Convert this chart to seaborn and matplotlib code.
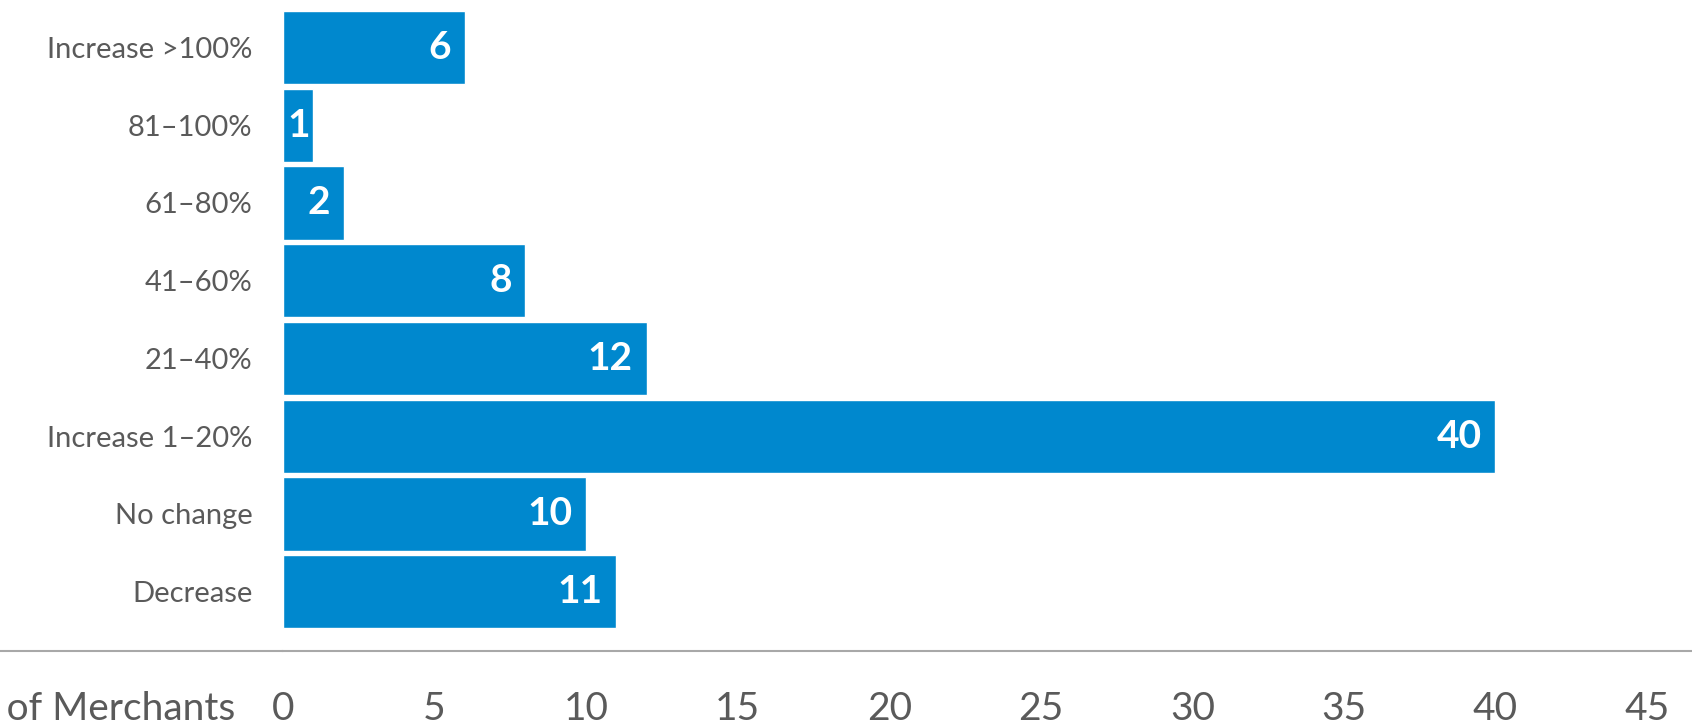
import matplotlib
matplotlib.use("Agg")
import matplotlib.pyplot as plt
from matplotlib.lines import Line2D
import seaborn as sns

# Data
categories = ["Increase >100%", "81–100%", "61–80%", "41–60%",
              "21–40%", "Increase 1–20%", "No change", "Decrease"]
counts = [6, 1, 2, 8, 12, 40, 10, 11]
x_ticks = [0, 5, 10, 15, 20, 25, 30, 35, 40, 45]

bar_color = "#0088ce"
text_gray = "#5a5a5a"
axis_gray = "#a8a8a8"

sns.set_style("white")
plt.rcParams["font.family"] = ["Lato", "DejaVu Sans"]

W, H = 1692, 728
fig = plt.figure(figsize=(W / 100, H / 100), dpi=100)
ax_left = 283 / W
ax_bottom = 1 - 651 / H
ax = fig.add_axes([ax_left, ax_bottom, 1 - ax_left, 651 / H])

sns.barplot(x=counts, y=categories, color=bar_color, saturation=1,
            width=0.944, orient="h", ax=ax)

# value labels inside bar ends (centred when the bar is too short)
for i, v in enumerate(counts):
    if v < 2:
        ax.annotate(str(v), xy=(v / 2, i), ha="center", va="center",
                    color="white", fontsize=28, fontweight="bold")
    else:
        ax.annotate(str(v), xy=(v, i), xytext=(-10, 0), textcoords="offset points",
                    ha="right", va="center", color="white", fontsize=28,
                    fontweight="bold")

ax.set_xlim(0, (W - 283) / 30.31)
ax.set_ylim(7.763, -0.611)
ax.set_xticks(x_ticks)
ax.set_xlabel("")
ax.set_ylabel("")

for side in ["top", "right", "left"]:
    ax.spines[side].set_visible(False)
ax.spines["bottom"].set_color(axis_gray)
ax.spines["bottom"].set_linewidth(1.5)

tick_len, tick_pad = 7, 22
ax.tick_params(axis="x", direction="out", length=tick_len, width=1, color=axis_gray,
               labelsize=28, labelcolor=text_gray, pad=tick_pad)
ax.tick_params(axis="y", length=0, labelsize=21, labelcolor=text_gray, pad=22)

# axis line runs on to the left edge of the figure
fig.add_artist(Line2D([0, ax_left], [ax_bottom, ax_bottom], transform=fig.transFigure,
                      color=axis_gray, linewidth=1.5))

# x-axis title sits on the tick label row, cut off at the left edge like the original
ax.annotate("Number of Merchants", xy=(235 / W, 0),
            xycoords=("figure fraction", "axes fraction"),
            xytext=(0, -(tick_len + tick_pad)), textcoords="offset points",
            ha="right", va="top", fontsize=28, color=text_gray,
            annotation_clip=False)

fig.savefig("out.png", dpi=100, facecolor="white")
